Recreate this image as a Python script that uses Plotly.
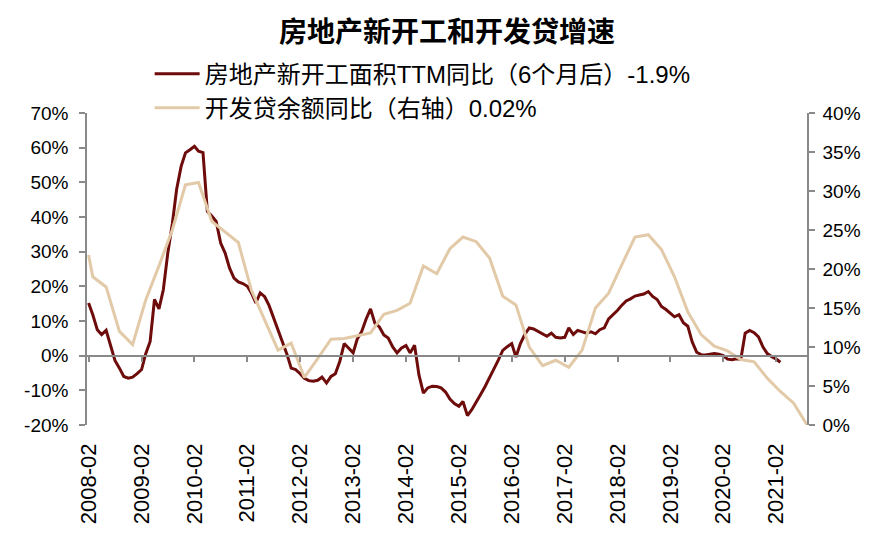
import plotly.graph_objects as go
import pandas as pd

title_text = "房地产新开工和开发贷增速"
name_starts = "房地产新开工面积TTM同比（6个月后）-1.9%"
name_loan = "开发贷余额同比（右轴）0.02%"

# Monthly: new housing starts TTM yoy (%), 2008-02 .. 2021-03 (left axis)
start_months = pd.date_range("2008-02-01", "2021-03-01", freq="MS")
starts_yoy = [
    15.2, 11.8, 7.5, 6.1, 7.3, 3.0, -1.4, -3.6, -6.0, -6.5, -6.2, -5.2,
    -4.0, 0.5, 4.1, 16.2, 13.5, 19.0, 29.6, 38.0, 48.0, 54.6, 58.5, 59.4,
    60.4, 59.0, 58.6, 41.6, 40.3, 38.7, 32.5, 29.6, 25.3, 22.4, 21.3, 20.8,
    20.0, 18.1, 15.2, 18.1, 17.0, 14.5, 11.0, 7.5, 4.5, 0.5, -3.6, -4.0,
    -5.2, -6.5, -7.2, -7.4, -7.1, -6.2, -7.9, -6.0, -5.2, -1.6, 3.5, 2.0,
    0.8, 4.8, 7.0, 10.5, 13.5, 9.4, 8.3, 6.0, 5.1, 2.5, 0.8, 2.2,
    2.9, 0.8, 3.0, -5.5, -10.8, -9.3, -8.8, -8.9, -9.3, -10.5, -12.5, -13.8,
    -14.6, -13.2, -17.3, -15.6, -13.5, -11.2, -8.9, -6.5, -3.8, -1.2, 1.5, 2.6,
    3.5, -0.4, 3.5, 6.1, 8.0, 7.7, 7.0, 6.1, 5.6, 6.5, 5.3, 5.1,
    5.3, 8.0, 6.1, 7.3, 7.0, 6.5, 6.9, 6.3, 7.5, 8.0, 10.6, 11.8,
    13.1, 14.5, 15.8, 16.4, 17.2, 17.5, 17.8, 18.5, 17.1, 16.2, 14.2, 13.3,
    12.3, 11.2, 11.8, 9.5, 8.5, 4.0, 1.0, 0.3, 0.2, 0.3, 0.6, 0.4,
    0.0, -1.0, -1.2, -0.9, -1.0, 6.5, 7.3, 6.6, 5.4, 2.5, 0.6, -0.3,
    -1.0, -1.9,
]

# Quarterly: development loan balance yoy (%), right axis
loan_dates = [
    "2008-02-01", "2008-03-01", "2008-06-01", "2008-09-01", "2008-12-01",
    "2009-03-01", "2009-06-01", "2009-09-01", "2009-12-01",
    "2010-03-01", "2010-06-01", "2010-09-01", "2010-12-01",
    "2011-03-01", "2011-06-01", "2011-09-01", "2011-12-01",
    "2012-03-01", "2012-06-01", "2012-09-01", "2012-12-01",
    "2013-03-01", "2013-06-01", "2013-09-01", "2013-12-01",
    "2014-03-01", "2014-06-01", "2014-09-01", "2014-12-01",
    "2015-03-01", "2015-06-01", "2015-09-01", "2015-12-01",
    "2016-03-01", "2016-06-01", "2016-09-01", "2016-12-01",
    "2017-03-01", "2017-06-01", "2017-09-01", "2017-12-01",
    "2018-03-01", "2018-06-01", "2018-09-01", "2018-12-01",
    "2019-03-01", "2019-06-01", "2019-09-01", "2019-12-01",
    "2020-03-01", "2020-06-01", "2020-09-01", "2020-12-01",
    "2021-03-01", "2021-06-01", "2021-09-01",
]
loan_yoy = [
    21.8, 19.0, 17.7, 12.0, 10.3,
    16.0, 20.4, 25.0, 30.8,
    31.1, 26.1, 24.8, 23.4,
    17.3, 13.5, 9.6, 10.5,
    6.1, 8.5, 11.0, 11.1,
    11.4, 11.8, 14.2, 14.7,
    15.6, 20.4, 19.4, 22.6,
    24.1, 23.5, 21.4, 16.5,
    15.4, 10.0, 7.6, 8.3,
    7.4, 9.6, 15.0, 16.9,
    20.5, 24.1, 24.4, 22.5,
    19.0, 14.5, 11.6, 10.1,
    9.5, 8.4, 8.1, 6.0,
    4.3, 2.8, 0.02,
]

x_tick_vals = [f"{y}-02-01" for y in range(2008, 2022)]
x_tick_labels = [f"{y}-02" for y in range(2008, 2022)]
left_tick_vals = [-20, -10, 0, 10, 20, 30, 40, 50, 60, 70]
left_tick_labels = ["-20%", "-10%", "0%", "10%", "20%", "30%", "40%", "50%", "60%", "70%"]
right_tick_vals = [0, 5, 10, 15, 20, 25, 30, 35, 40]
right_tick_labels = ["0%", "5%", "10%", "15%", "20%", "25%", "30%", "35%", "40%"]

BROWN = "#6E0B0B"
BEIGE = "#E2CAA8"
GRAY = "#898989"
FONT = "Liberation Sans, Arial, Noto Sans CJK SC, sans-serif"
CJK = "Noto Sans CJK SC, Liberation Sans, sans-serif"

fig = go.Figure()
fig.add_trace(go.Scatter(
    x=start_months, y=starts_yoy, name=name_starts, mode="lines",
    line=dict(color=BROWN, width=3), xaxis="x", yaxis="y", legendgroup="a",
))
fig.add_trace(go.Scatter(
    x=loan_dates, y=loan_yoy, name=name_loan, mode="lines",
    line=dict(color=BEIGE, width=3), xaxis="x", yaxis="y2", legendgroup="b",
))
# helper trace so the zero-line category axis (ticks only) is drawn
fig.add_trace(go.Scatter(
    x=[x_tick_vals[0]], y=[None], xaxis="x2", yaxis="y",
    showlegend=False, hoverinfo="skip", mode="lines",
))

fig.update_layout(
    width=880, height=541, autosize=False,
    margin=dict(l=79, r=81, t=105, b=124),
    paper_bgcolor="white", plot_bgcolor="white",
    font=dict(family=FONT, size=19, color="black"),
    title=dict(text="<b>" + title_text + "</b>", x=0.5, xref="paper",
               y=0.955, yref="container", yanchor="middle", xanchor="center",
               font=dict(family=CJK, size=28, color="black")),
    showlegend=True,
    legend=dict(x=0.087, y=1.197, xanchor="left", yanchor="top",
                orientation="v", bgcolor="rgba(0,0,0,0)",
                font=dict(family=FONT, size=24, color="black"),
                tracegroupgap=0, itemwidth=45),
    xaxis=dict(type="date", range=["2008-01-21", "2021-09-01"],
               tickmode="array", tickvals=x_tick_vals, ticktext=x_tick_labels,
               tickangle=-90, showline=False, showgrid=False, zeroline=False,
               ticks="", ticklabelstandoff=13,
               tickfont=dict(size=22, family=FONT)),
    xaxis2=dict(type="date", matches="x", overlaying="x", anchor="free",
                position=20 / 90, showline=True, linecolor=GRAY, linewidth=1.5,
                ticks="outside", ticklen=6, tickcolor=GRAY, tickwidth=1.5,
                tickmode="array", tickvals=x_tick_vals, showticklabels=False,
                showgrid=False, zeroline=False),
    yaxis=dict(range=[-20, 70], tickmode="array", tickvals=left_tick_vals,
               ticktext=left_tick_labels, showline=True, linecolor=GRAY,
               linewidth=1.5, ticks="outside", ticklen=6, tickcolor=GRAY,
               tickwidth=1.5, showgrid=False, zeroline=False,
               ticklabelstandoff=7),
    yaxis2=dict(range=[0, 40], overlaying="y", side="right", anchor="x",
                tickmode="array", tickvals=right_tick_vals,
                ticktext=right_tick_labels, showline=True, linecolor=GRAY,
                linewidth=1.5, ticks="outside", ticklen=6, tickcolor=GRAY,
                tickwidth=1.5, showgrid=False, zeroline=False,
                ticklabelstandoff=4),
)

fig.write_html("out.html")
